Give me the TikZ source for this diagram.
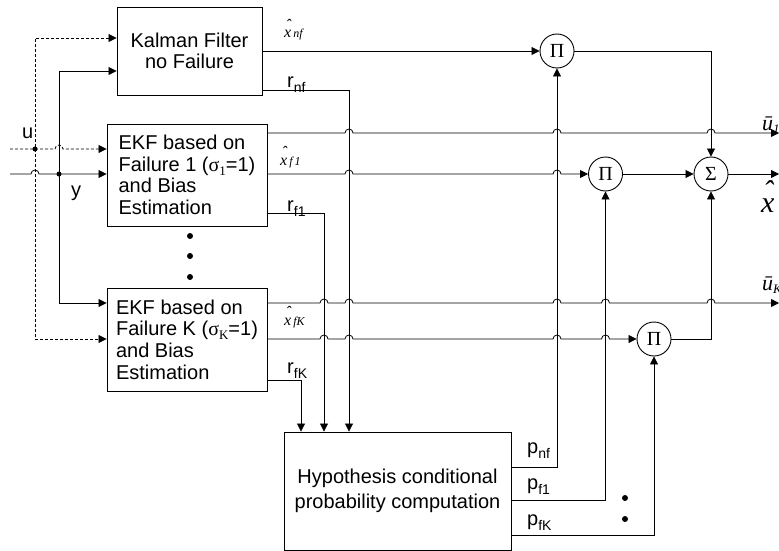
\documentclass[tikz,border=0pt]{standalone}
\usepackage{fontspec}
\setmainfont{Liberation Sans}
\newfontfamily\tms{Liberation Serif}
\usetikzlibrary{arrows.meta}
\newcommand{\sgm}[1]{{\tms σ}\raisebox{-4pt}{\tms\fontsize{13}{13}\selectfont #1}=1}
\newcommand{\lsub}[1]{\raisebox{-5pt}{\fontsize{14}{14}\selectfont #1}}
\newcommand{\xh}[1]{{\tms\itshape\fontsize{16}{16}\selectfont\makebox[0pt][l]{\raisebox{8pt}{\kern1.5pt\symbol{"02C6}}}x\fontsize{12}{12}\selectfont\,#1}}
\begin{document}
\begin{tikzpicture}[x=1pt,y=-1pt,
 blk/.style={draw, line width=0.9pt, inner sep=0pt, font=\fontsize{20}{21.7}\selectfont},
 op/.style={draw, line width=0.9pt, circle, minimum size=34pt, inner sep=0pt, font=\tms\fontsize{20}{20}\selectfont},
 ln/.style={line width=0.8pt},
 arr/.style={ln, -{Triangle[length=8pt,width=8pt]}},
 darr/.style={ln, {Triangle[length=8pt,width=8pt]}-{Triangle[length=8pt,width=8pt]}},
 dsh/.style={dash pattern=on 3pt off 2pt},
 jdot/.style={circle, fill, inner sep=0pt, minimum size=5pt},
 vdot/.style={circle, fill, inner sep=0pt, minimum size=6pt},
 lbl/.style={anchor=base west, inner sep=0pt, font=\fontsize{20}{20}\selectfont},
]
\useasboundingbox (0,0) rectangle (779,551);

% blocks
\node[blk, minimum width=145pt, minimum height=88pt, align=center] (kf) at (189.5,51) {Kalman Filter\\no Failure};
\node[blk, minimum width=160pt, minimum height=102pt, align=left] (ekf1) at (187,175) {EKF based on\\Failure 1 (\sgm{1})\\and Bias\\Estimation};
\node[blk, minimum width=160pt, minimum height=103pt, align=left] (ekfK) at (187,339.5) {EKF based on\\Failure K (\sgm{K})\\and Bias\\Estimation};
\node[blk, minimum width=227pt, minimum height=118pt, align=center, font=\fontsize{20}{25}\selectfont] (hyp) at (397.5,491) {Hypothesis conditional\\probability computation};

\node[op] (p1) at (557,51) {Π};
\node[op] (p2) at (605.5,174) {Π};
\node[op] (pK) at (654,339) {Π};
\node[op] (sig) at (711,174) {Σ};

% input coordinates
\coordinate (uin) at (10,149);
\coordinate (yin) at (10,174);
\coordinate (uT) at (35,38);
\coordinate (uB) at (35,339);
\coordinate (yT) at (59,71);
\coordinate (yB) at (59,303);
\node[jdot] (uJ) at (35,149) {};
\node[jdot] (yJ) at (59,174) {};

% inputs
\draw[darr, dsh] (kf.west |- uT) -- (uT) -- (uB) -- (ekfK.west |- uB);
\draw[darr] (kf.west |- yT) -- (yT) -- (yB) -- (ekfK.west |- yB);
\draw[arr, dsh] (uin) -- (uJ.center) -- (55,149) arc[start angle=180,end angle=0,radius=4pt] -- (ekf1.west |- uJ);
\draw[arr] (yin) -- (31,174) arc[start angle=180,end angle=0,radius=4pt] -- (ekf1.west |- yJ);

\node[lbl] (lu) at (22,138) {u};
\node[lbl] (ly) at (71,196) {y};

% KF outputs
\draw[arr] (kf.east) -- (p1.west);
\draw[arr] (kf.east |- 0,90) -- (349,90) -- (349,0 |- hyp.north);

% EKF1 outputs
\draw[arr] (ekf1.east |- 0,133) -- (345,133) arc[start angle=180,end angle=0,radius=4pt]
  -- (553,133) arc[start angle=180,end angle=0,radius=4pt]
  -- (707,133) arc[start angle=180,end angle=0,radius=4pt] -- (779,133);
\draw[arr] (ekf1.east |- 0,174) -- (345,174) arc[start angle=180,end angle=0,radius=4pt]
  -- (553,174) arc[start angle=180,end angle=0,radius=4pt] -- (p2.west);
\draw[arr] (ekf1.east |- 0,213) -- (324,213) -- (324,0 |- hyp.north);

% EKFK outputs
\draw[arr] (ekfK.east |- 0,303) -- (320,303) arc[start angle=180,end angle=0,radius=4pt]
  -- (345,303) arc[start angle=180,end angle=0,radius=4pt]
  -- (553,303) arc[start angle=180,end angle=0,radius=4pt]
  -- (601.5,303) arc[start angle=180,end angle=0,radius=4pt]
  -- (707,303) arc[start angle=180,end angle=0,radius=4pt] -- (779,303);
\draw[arr] (ekfK.east |- 0,339) -- (320,339) arc[start angle=180,end angle=0,radius=4pt]
  -- (345,339) arc[start angle=180,end angle=0,radius=4pt]
  -- (553,339) arc[start angle=180,end angle=0,radius=4pt]
  -- (601.5,339) arc[start angle=180,end angle=0,radius=4pt] -- (pK.west);
\draw[arr] (ekfK.east |- 0,380) -- (301,380) -- (301,0 |- hyp.north);

% probabilities
\draw[arr] (hyp.east |- 0,467) -| (p1.south);
\draw[arr] (hyp.east |- 0,500) -| (p2.south);
\draw[arr] (hyp.east |- 0,535) -| (pK.south);

% combination
\draw[arr] (p1.east) -| (sig.north);
\draw[arr] (p2.east) -- (sig.west);
\draw[arr] (pK.east) -| (sig.south);
\draw[arr] (sig.east) -- (779,174);

% dots
\node[vdot] (d1) at (190,236) {};
\node[vdot] (d2) at (190,256) {};
\node[vdot] (d3) at (190,277) {};
\node[vdot] (d4) at (625,498) {};
\node[vdot] (d5) at (625,519) {};

% labels
\node[lbl] (lxnf) at (284,38) {\xh{nf}};
\node[lbl] (lrnf) at (287,88) {r\lsub{nf}};
\node[lbl] (lxf1) at (280,165) {\xh{f\,1}};
\node[lbl] (lrf1) at (287,211) {r\lsub{f1}};
\node[lbl] (lxfK) at (284,325) {\xh{fK}};
\node[lbl] (lrfK) at (287,373) {r\lsub{fK}};
\node[lbl] (lpnf) at (527,453) {p\lsub{nf}};
\node[lbl] (lpf1) at (527,489) {p\lsub{f1}};
\node[lbl] (lpfK) at (527,525) {p\lsub{fK}};
\node[lbl, font=\tms\itshape\fontsize{22}{22}\selectfont] (lu1) at (762,130) {ū\raisebox{-3pt}{\fontsize{13}{13}\selectfont 1}};
\node[lbl, font=\tms\itshape\fontsize{22}{22}\selectfont] (luK) at (762,290) {ū\raisebox{-3pt}{\fontsize{13}{13}\selectfont K}};
\node[lbl, font=\tms\itshape\fontsize{30}{30}\selectfont] (lx) at (761,212) {\makebox[0pt][l]{\raisebox{11pt}{\kern2pt\symbol{"02C6}}}x};
\end{tikzpicture}
\end{document}
